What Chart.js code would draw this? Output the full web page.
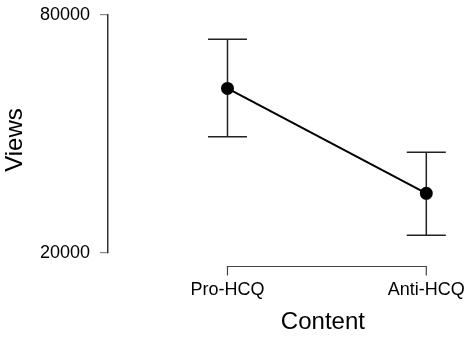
<!DOCTYPE html>
<html>
<head>
<meta charset="utf-8">
<script src="https://cdn.jsdelivr.net/npm/chart.js@4"></script>
<style>
  html, body { margin: 0; padding: 0; background: #fff; }
  #wrap { width: 467px; height: 338px; }
</style>
</head>
<body>
<div id="wrap"><canvas id="chart" width="467" height="338"></canvas></div>
<script>
const categories = ['Pro-HCQ', 'Anti-HCQ'];
const meanViews = [61500, 35050];
const lowerViews = [49300, 24500];
const upperViews = [73900, 45400];
const yTicks = [20000, 80000];

const FONT = '"Liberation Sans", Arial, sans-serif';

// error bars, x-axis bracket and axis titles, all placed through the chart's scales
const extras = {
  id: 'extras',
  beforeDatasetsDraw(chart) {
    const { ctx, scales: { x, y } } = chart;
    ctx.save();
    ctx.strokeStyle = '#222';
    ctx.lineWidth = 1.5;
    for (let i = 0; i < categories.length; i++) {
      const px = x.getPixelForValue(i);
      const top = y.getPixelForValue(upperViews[i]);
      const bot = y.getPixelForValue(lowerViews[i]);
      ctx.beginPath();
      ctx.moveTo(px, top); ctx.lineTo(px, bot);
      ctx.moveTo(px - 19.5, top); ctx.lineTo(px + 19.5, top);
      ctx.moveTo(px - 19.5, bot); ctx.lineTo(px + 19.5, bot);
      ctx.stroke();
    }
    ctx.restore();
  },
  afterDraw(chart) {
    const { ctx, scales: { x } } = chart;
    const x0 = x.getPixelForValue(0);
    const x1 = x.getPixelForValue(categories.length - 1);
    const ly = 266.5;
    ctx.save();
    ctx.strokeStyle = '#444';
    ctx.lineWidth = 1.2;
    ctx.beginPath();
    ctx.moveTo(x0, ly + 9); ctx.lineTo(x0, ly);
    ctx.lineTo(x1, ly); ctx.lineTo(x1, ly + 9);
    ctx.stroke();

    ctx.fillStyle = '#000';
    ctx.font = '24px ' + FONT;
    ctx.textAlign = 'center';
    ctx.textBaseline = 'middle';
    ctx.fillText('Content', (x0 + x1) / 2 - 4, 322);
    ctx.translate(15, 140);
    ctx.rotate(-Math.PI / 2);
    ctx.fillText('Views', 0, 0);
    ctx.restore();
  }
};

new Chart(document.getElementById('chart'), {
  type: 'line',
  data: {
    datasets: [{
      data: meanViews.map((v, i) => ({ x: i, y: v })),
      borderColor: '#000',
      borderWidth: 2,
      pointRadius: 5.5,
      pointBackgroundColor: '#000',
      pointBorderColor: '#000',
      tension: 0
    }]
  },
  options: {
    responsive: false,
    animation: false,
    layout: { padding: { top: 15, left: 0, right: 0, bottom: 0 } },
    plugins: { legend: { display: false }, tooltip: { enabled: false } },
    scales: {
      x: {
        type: 'linear',
        min: -0.601,
        max: 1.167,
        afterBuildTicks: s => { s.ticks = categories.map((c, i) => ({ value: i })); },
        afterFit: s => { s.height = 85; s.paddingLeft = 0; s.paddingRight = 0; },
        grid: { display: false, drawTicks: false },
        border: { display: false },
        ticks: {
          padding: 26,
          color: '#000',
          font: { size: 18, family: FONT },
          maxRotation: 0,
          callback: v => categories[v]
        }
      },
      y: {
        min: 20000,
        max: 80000,
        afterBuildTicks: s => { s.ticks = yTicks.map(v => ({ value: v })); },
        afterFit: s => { s.width = 108; s.paddingTop = 0; s.paddingBottom = 0; },
        grid: { drawOnChartArea: false, tickLength: 8, color: '#888', lineWidth: 1.2 },
        border: { display: true, color: '#333', width: 1.5 },
        ticks: {
          padding: 10,
          color: '#000',
          font: { size: 18, family: FONT },
          callback: v => String(v)
        }
      }
    }
  },
  plugins: [extras]
});
</script>
</body>
</html>
